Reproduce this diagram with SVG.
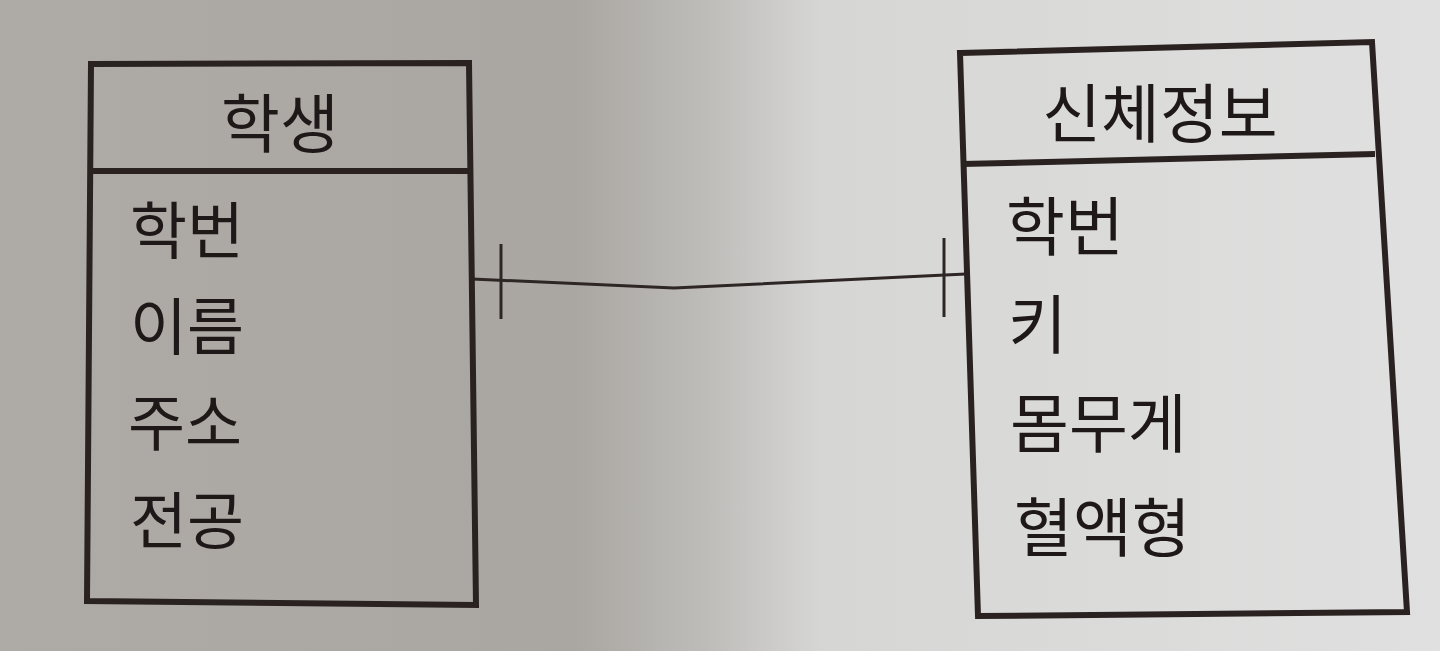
<svg xmlns="http://www.w3.org/2000/svg" width="1440" height="651" viewBox="0 0 1440 651">
  <defs>
    <linearGradient id="bg" x1="0" y1="0" x2="1440" y2="0" gradientUnits="userSpaceOnUse">
      <stop offset="0" stop-color="#aeaba6"/>
      <stop offset="0.4" stop-color="#aaa7a2"/>
      <stop offset="0.49" stop-color="#bebcb9"/>
      <stop offset="0.57" stop-color="#d6d6d5"/>
      <stop offset="1" stop-color="#e0e0e0"/>
    </linearGradient>
    <style>
      .box { fill: none; stroke: #2a2220; stroke-width: 6; stroke-linejoin: miter; }
      .div { stroke: #2a2220; stroke-width: 6; }
      .conn { fill: none; stroke: #2e2624; stroke-width: 3; }
      .tick { stroke: #2e2624; stroke-width: 3; }
      text { font-family: "Noto Sans CJK KR", "Noto Sans", sans-serif; fill: #1e1818; }
      .title { font-size: 64px; text-anchor: middle; }
      .attr { font-size: 62px; }
      .attrR { font-size: 64px; }
    </style>
  </defs>
  <rect x="0" y="0" width="1440" height="651" fill="url(#bg)"/>

  <g id="connectors">
    <polyline class="conn" points="472,279 674,288 966,274"/>
    <line class="tick" x1="501" y1="244" x2="501" y2="319"/>
    <line class="tick" x1="944" y1="238" x2="944" y2="317"/>
  </g>

  <g id="node-student">
    <polygon class="box" points="91,64 469,63 476,605 87,601"/>
    <line class="div" x1="90" y1="171" x2="471" y2="171"/>
    <text class="title" x="280" y="147">학생</text>
    <text class="attr" x="130" y="254">학번</text>
    <text class="attr" x="130" y="350">이름</text>
    <text class="attr" x="128" y="446">주소</text>
    <text class="attr" x="130" y="544">전공</text>
  </g>

  <g id="node-body">
    <polygon class="box" points="960,53 1372,42 1407,612 978,616"/>
    <line class="div" x1="962" y1="164" x2="1375" y2="154"/>
    <text class="title" x="1160" y="137">신체정보</text>
    <text class="attrR" x="1006" y="250">학번</text>
    <text class="attrR" x="1008" y="348">키</text>
    <text class="attrR" x="1010" y="447">몸무게</text>
    <text class="attrR" x="1014" y="551">혈액형</text>
  </g>
</svg>
